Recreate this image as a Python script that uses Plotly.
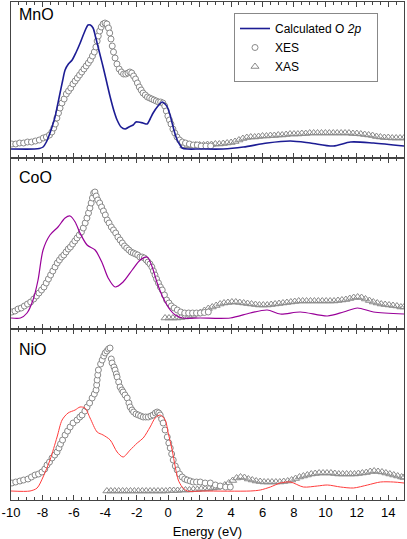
import plotly.graph_objects as go
from plotly.subplots import make_subplots

# ---------------- data ----------------
tick_vals = [-10, -8, -6, -4, -2, 0, 2, 4, 6, 8, 10, 12, 14]
tick_text = ["-10", "-8", "-6", "-4", "-2", "0", "2", "4", "6", "8", "10", "12", "14"]
panel_names = ["MnO", "CoO", "NiO"]

mno_calc_x = [-10, -8.5, -8.2, -7.96, -7.75, -7.52, -7.35, -7.2, -7.05, -6.88, -6.72, -6.56, -6.35, -6.11,
              -5.85, -5.6, -5.35, -5.1, -4.95, -4.78, -4.62, -4.46, -4.3, -4.14, -3.9, -3.69, -3.45, -3.25,
              -3.0, -2.74, -2.5, -2.23, -2.05, -1.91, -1.6, -1.34, -1.15, -0.96, -0.65, -0.38, -0.2, -0.06,
              0.1, 0.25, 0.4, 0.57, 0.75, 0.89, 1.21, 2.04, 3.5, 4.78, 6.3, 7.77, 9.04, 10.5, 11.6, 13.06, 15.0]
mno_calc_y = [9, 9, 9.5, 11, 16, 25, 33, 41, 52, 65, 77, 88, 94, 98,
              106, 115, 125, 133, 133, 130, 121, 111, 101, 91, 75, 61, 47, 38,
              31, 29, 31, 33, 36, 36, 35, 34, 39, 45, 52, 56, 54, 51,
              44, 35, 26, 18, 13, 10, 9, 9, 9, 11, 15, 17, 15, 12, 16, 15, 12]

mno_xes_x = [-9.95, -9.7, -9.45, -9.2, -8.95, -8.7, -8.45, -8.2, -7.95, -7.75, -7.55, -7.4, -7.28, -7.18,
             -7.08, -6.98, -6.88, -6.76, -6.62, -6.48, -6.34, -6.2, -6.06, -5.92, -5.78, -5.64, -5.5, -5.36,
             -5.22, -5.08, -4.95, -4.82, -4.7, -4.6, -4.52, -4.45, -4.36, -4.26, -4.14, -4.02, -3.9, -3.8,
             -3.72, -3.64, -3.56, -3.48, -3.38, -3.26, -3.12, -2.98, -2.84, -2.7, -2.56, -2.44, -2.32, -2.2,
             -2.08, -1.96, -1.84, -1.72, -1.6, -1.46, -1.32, -1.18, -1.04, -0.9, -0.76, -0.62, -0.48, -0.34,
             -0.22, -0.12, -0.02, 0.08, 0.18, 0.3, 0.42, 0.56, 0.72, 0.9, 1.1, 1.35, 1.6, 1.85, 2.1, 2.4, 2.7]
mno_xes_y = [14, 14, 15, 15, 16, 16, 17, 18, 20, 21, 23, 26, 30, 34,
             40, 45, 50, 55, 59, 64, 67, 70, 74, 77, 80, 83, 86, 89,
             92, 95, 98, 102, 106, 111, 117, 122, 127, 131, 134, 135, 134, 130,
             125, 119, 112, 106, 100, 94, 89, 86, 84, 84, 85, 86, 85, 82,
             79, 75, 71, 68, 65, 63, 61, 60, 59, 58, 57, 56, 56, 55,
             52, 47, 42, 38, 34, 29, 25, 21, 18, 16, 15, 14, 13, 13, 12, 12, 12]

mno_xas_x = [1.0, 1.25, 1.5, 1.75, 2.0, 2.25, 2.5, 2.75, 3.0, 3.25, 3.5, 3.75, 4.0, 4.25, 4.5, 4.75, 5.0,
             5.25, 5.5, 5.75, 6.0, 6.25, 6.5, 6.75, 7.0, 7.25, 7.5, 7.75, 8.0, 8.25, 8.5, 8.75, 9.0, 9.25,
             9.5, 9.75, 10.0, 10.25, 10.5, 10.75, 11.0, 11.25, 11.5, 11.75, 12.0, 12.25, 12.5, 12.75, 13.0,
             13.25, 13.5, 13.75, 14.0, 14.25, 14.5, 14.75, 15.0]
mno_xas_y = [12, 12, 12.5, 13, 13, 13, 13.5, 13.5, 14, 14, 14.5, 15, 15.5, 16.5, 18, 19.5, 20.5,
             21, 21, 21.5, 22, 22, 22.5, 22.5, 23, 23, 23.5, 24, 24, 24, 24.5, 24.5, 25, 25,
             25, 25, 25, 25, 25, 25, 25, 25, 25, 24.5, 24.5, 24, 23.5, 23, 22.5,
             21.5, 21, 20.5, 20.5, 20, 20, 20, 20]

coo_calc_x = [-10, -9.4, -8.98, -8.6, -8.28, -7.96, -7.52, -7.01, -6.56, -6.24, -5.92, -5.61, -5.16, -4.65,
              -4.2, -3.82, -3.38, -2.87, -2.29, -1.78, -1.34, -1.02, -0.7, -0.32, 0.13, 0.45, 0.89, 2.04,
              3.95, 5.22, 6.3, 7.13, 8.41, 10.13, 11.15, 12.04, 13.06, 15.0]
coo_calc_y = [11, 11, 16, 29, 49, 79, 94, 102, 111, 113, 107, 96, 84, 79,
              66, 51, 42, 47, 59, 69, 72, 62, 46, 31, 19, 14, 11, 11,
              11, 16, 19, 15, 17, 13, 17, 21, 17, 15]

coo_xes_x = [-9.95, -9.75, -9.55, -9.35, -9.15, -8.95, -8.75, -8.55, -8.38, -8.22, -8.06, -7.9, -7.76, -7.62,
             -7.48, -7.34, -7.2, -7.06, -6.92, -6.78, -6.64, -6.5, -6.36, -6.22, -6.08, -5.94, -5.8, -5.66,
             -5.52, -5.4, -5.28, -5.17, -5.07, -4.98, -4.9, -4.82, -4.74, -4.66, -4.58, -4.48, -4.36, -4.24,
             -4.12, -4.0, -3.88, -3.76, -3.62, -3.48, -3.34, -3.2, -3.06, -2.92, -2.78, -2.64, -2.5, -2.36,
             -2.22, -2.08, -1.94, -1.8, -1.66, -1.52, -1.4, -1.28, -1.16, -1.04, -0.94, -0.84, -0.74, -0.62,
             -0.5, -0.38, -0.24, -0.1, 0.05, 0.2, 0.38, 0.58, 0.8, 1.05, 1.3, 1.55, 1.8, 2.05, 2.3, 2.55]
coo_xes_y = [17, 18, 20, 21, 23, 25, 27, 30, 33, 36, 39, 42, 46, 50,
             54, 58, 62, 66, 69, 72, 74, 77, 80, 82, 85, 88, 91, 94,
             97, 101, 106, 111, 116, 121, 126, 131, 136, 137, 133, 129, 126, 122,
             118, 114, 109, 106, 102, 99, 96, 92, 89, 86, 83, 81, 79, 77,
             76, 75, 74, 72, 72, 71, 69, 67, 65, 62, 58, 54, 50, 46,
             42, 39, 34, 29, 26, 23, 21, 19, 17, 16, 16, 16, 16, 16, 16.5, 17]

coo_xas_x = [-0.2, 0.05, 0.3, 0.55, 0.8, 1.05, 1.3, 1.55, 1.8, 2.05, 2.3, 2.55, 2.8, 3.05, 3.3, 3.55, 3.8,
             4.05, 4.3, 4.55, 4.8, 5.05, 5.3, 5.55, 5.8, 6.05, 6.3, 6.55, 6.8, 7.05, 7.3, 7.55, 7.8, 8.05,
             8.3, 8.55, 8.8, 9.05, 9.3, 9.55, 9.8, 10.05, 10.3, 10.55, 10.8, 11.05, 11.3, 11.55, 11.8, 12.05,
             12.3, 12.55, 12.8, 13.05, 13.3, 13.55, 13.8, 14.05, 14.3, 14.55, 14.8, 15.0]
coo_xas_y = [11, 11, 11, 11, 11.5, 12, 12.5, 13.5, 15, 16.5, 18.5, 20.5, 22, 23.5, 25, 26, 26.5,
             27, 27, 26.5, 26, 25.5, 25, 24.5, 24, 24, 24, 24.5, 25, 25.5, 26, 26.5, 27, 27.5,
             28, 28, 28, 28, 28, 28, 28, 28, 28, 28, 28.5, 29, 29.5, 30.5, 31.5, 32,
             31.5, 30, 28.5, 27, 26, 25, 24.5, 24, 23.5, 23, 22, 22]

nio_calc_x = [-10, -8.79, -8.34, -7.96, -7.52, -7.07, -6.75, -6.37, -5.92, -5.61, -5.29, -4.97, -4.52, -4.14,
              -3.69, -3.25, -2.87, -2.42, -1.97, -1.59, -1.15, -0.83, -0.51, -0.19, 0.0, 0.25, 0.45, 0.64,
              0.89, 1.21, 2.23, 5.22, 5.86, 6.5, 7.13, 7.77, 8.6, 9.49, 10.13, 10.96, 11.78, 12.68, 13.5,
              14.33, 15.0]
nio_calc_y = [9, 9, 12, 23, 40, 63, 80, 87, 90, 93, 92, 82, 68, 65,
              60, 48, 43, 50, 57, 62, 73, 82, 85, 80, 67, 50, 33, 20,
              13, 9, 9, 9, 10, 13, 17, 18, 13, 14, 15, 13, 12, 15, 18,
              18, 17]

nio_xes_x = [-9.94, -9.7, -9.43, -9.2, -8.92, -8.7, -8.47, -8.25, -8.03, -7.85, -7.71, -7.55, -7.39, -7.22,
             -7.07, -6.95, -6.85, -6.72, -6.56, -6.4, -6.24, -6.05, -5.8, -5.62, -5.48, -5.3, -5.16, -5.0,
             -4.84, -4.7, -4.59, -4.55, -4.52, -4.48, -4.44, -4.3, -4.2, -4.1, -4.01, -3.9, -3.8, -3.7,
             -3.62, -3.57, -3.45, -3.38, -3.3, -3.25, -3.15, -3.06, -2.95, -2.87, -2.75, -2.61, -2.5, -2.42,
             -2.3, -2.2, -2.05, -1.9, -1.75, -1.59, -1.43, -1.27, -1.1, -0.96, -0.82, -0.7, -0.6, -0.51,
             -0.42, -0.32, -0.2, -0.06, 0.04, 0.13, 0.22, 0.32, 0.45, 0.57, 0.72, 0.89, 1.05, 1.21, 1.4,
             1.59, 1.8, 2.04, 2.35, 2.68, 3.0, 3.31, 3.65, 3.95]
nio_xes_y = [17, 18, 19, 20, 21, 23, 25, 26, 28, 31, 35, 38, 42, 45,
             48, 52, 56, 60, 65, 69, 73, 77, 80, 83, 85, 89, 93, 97,
             102, 106, 110, 115, 120, 125, 130, 136, 140, 144, 147, 149, 151, 152,
             141, 137, 133, 130, 126, 123, 118, 113, 110, 108, 105, 102, 97, 93,
             90, 88, 86, 85, 84, 83, 83, 83, 84, 85, 87, 88, 87, 85,
             81, 77, 70, 63, 57, 52, 46, 40, 34, 30, 26, 23, 21, 20, 19,
             18, 18, 18, 17, 17, 15, 14, 13, 13]

nio_xas_x = [-3.9, -3.65, -3.4, -3.15, -2.9, -2.65, -2.4, -2.15, -1.9, -1.65, -1.4, -1.15, -0.9, -0.65,
             -0.4, -0.15, 0.1, 0.35, 0.6, 0.85, 1.1, 1.35, 1.6, 1.85, 2.1, 2.35, 2.6, 2.85, 3.1, 3.35, 3.6,
             3.85, 4.1, 4.35, 4.6, 4.85, 5.1, 5.35, 5.6, 5.85, 6.1, 6.35, 6.6, 6.85, 7.1, 7.35, 7.6, 7.85,
             8.1, 8.35, 8.6, 8.85, 9.1, 9.35, 9.6, 9.85, 10.1, 10.35, 10.6, 10.85, 11.1, 11.35, 11.6, 11.85,
             12.1, 12.35, 12.6, 12.85, 13.1, 13.35, 13.6, 13.85, 14.1, 14.35, 14.6, 14.85, 15.0]
nio_xas_y = [9, 9, 9, 9, 9, 9, 9, 9, 9, 9, 9, 9, 9, 9,
             9, 9, 9.5, 9.5, 9.5, 10, 10, 10, 10.5, 10.5, 11, 11, 11.5, 12, 12.5, 13.5, 15,
             17, 19.5, 22, 23, 22.5, 21, 20, 19, 18.5, 18, 18, 18, 18, 18, 18.5, 19, 20,
             21.5, 23, 24, 25, 26, 26.5, 27, 27, 27, 27, 26.5, 26, 26, 26, 26, 26,
             26.5, 27, 27.5, 28.5, 29, 28.5, 28, 27, 26, 25, 24, 23, 22.5]

# ---------------- styling ----------------
panel_heights = [156, 171, 171]
calc_colors = ["#1c1c94", "#990099", "#ff3c3c"]
calc_widths = [1.6, 1.2, 1.0]
marker_gray = "#8a8a8a"
axis_color = "#444444"
FONT = "Liberation Sans, Arial, sans-serif"

W, H = 407, 539
ML, MR, MT, MB = 11, 3, 2, 39

fig = make_subplots(rows=3, cols=1, shared_xaxes=True, vertical_spacing=0,
                    row_heights=panel_heights)

panels = [
    (mno_calc_x, mno_calc_y, mno_xes_x, mno_xes_y, mno_xas_x, mno_xas_y),
    (coo_calc_x, coo_calc_y, coo_xes_x, coo_xes_y, coo_xas_x, coo_xas_y),
    (nio_calc_x, nio_calc_y, nio_xes_x, nio_xes_y, nio_xas_x, nio_xas_y),
]

for i, (cx, cy, ex, ey, ax, ay) in enumerate(panels):
    row = i + 1
    first = (i == 0)
    fig.add_trace(go.Scatter(
        x=ax, y=ay, mode="markers", name="XAS", showlegend=first, legendrank=3,
        marker=dict(symbol="triangle-up-open", size=7, color=marker_gray, line=dict(width=1))),
        row=row, col=1)
    fig.add_trace(go.Scatter(
        x=ex, y=ey, mode="markers", name="XES", showlegend=first, legendrank=2,
        marker=dict(symbol="circle", size=6, color="white",
                    line=dict(color=marker_gray, width=1))),
        row=row, col=1)
    fig.add_trace(go.Scatter(
        x=cx, y=cy, mode="lines", name="Calculated O <i>2p</i>&nbsp;&nbsp;&nbsp;",
        showlegend=first, legendrank=1,
        line=dict(color=calc_colors[i], width=calc_widths[i], shape="spline", smoothing=0.8)),
        row=row, col=1)

xaxis_common = dict(
    range=[-10, 15], showgrid=False, zeroline=False, showline=True, linecolor=axis_color,
    linewidth=1, mirror="allticks", ticks="inside", ticklen=5, tickwidth=1, tickcolor=axis_color,
    tickvals=tick_vals, ticktext=tick_text, automargin=False,
    minor=dict(dtick=0.5, tick0=0, ticks="inside", ticklen=3, tickwidth=1, tickcolor=axis_color,
               showgrid=False),
    tickfont=dict(family=FONT, size=13, color="#000000"),
)
for r in range(1, 4):
    fig.update_xaxes(**xaxis_common, row=r, col=1)
    fig.update_yaxes(range=[0, panel_heights[r - 1]], showgrid=False, zeroline=False,
                     showline=True, linecolor=axis_color, linewidth=1, mirror=True,
                     ticks="", showticklabels=False, automargin=False, row=r, col=1)

fig.update_xaxes(title=dict(text="Energy (eV)", font=dict(family=FONT, size=13, color="#000000"),
                            standoff=8), row=3, col=1)


def px(x):
    return (x - ML) / (W - ML - MR)


def py(y):
    return (H - MB - y) / (H - MT - MB)


label_y = [15, 178, 349]
for name, ly in zip(panel_names, label_y):
    fig.add_annotation(text=name, x=px(17), y=py(ly), xref="paper", yref="paper",
                       xanchor="left", yanchor="middle", showarrow=False,
                       font=dict(family=FONT, size=16, color="#000000"))

fig.update_layout(
    width=W, height=H,
    margin=dict(l=ML, r=MR, t=MT, b=MB, pad=0),
    paper_bgcolor="white", plot_bgcolor="white",
    font=dict(family=FONT, size=13, color="#000000"),
    showlegend=True,
    legend=dict(x=px(234), y=py(13), xanchor="left", yanchor="top",
                bordercolor="#888888", borderwidth=1, bgcolor="white",
                font=dict(family=FONT, size=12, color="#000000"),
                tracegroupgap=0, itemwidth=30),
)

fig.write_html("out.html", config={"displayModeBar": False},
               post_script="document.body.style.margin='0px';document.body.style.padding='0px';")
